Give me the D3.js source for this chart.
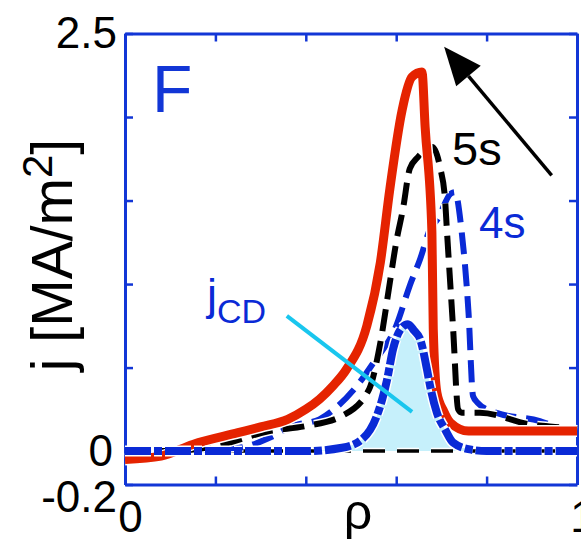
<!DOCTYPE html>
<html lang="en">
<head>
<meta charset="UTF-8">
<title>j profiles</title>
<script src="https://d3js.org/d3.v7.min.js"></script>
<style>
  body { margin: 0; background: #ffffff; }
  svg { display: block; font-family: "Liberation Sans", Arial, Helvetica, sans-serif; }
</style>
</head>
<body>
<svg width="581" height="546"></svg>
<script>
// current density profiles j(rho) in MA/m2

// total current, late time (red solid)
const redRho = [0, 0.08, 0.15, 0.25, 0.30, 0.36, 0.40, 0.43, 0.46, 0.49, 0.535, 0.565, 0.586, 0.613, 0.635, 0.657, 0.664, 0.679, 0.682, 0.69, 0.705, 0.72, 0.76, 0.85, 1.0];
const redJ   = [-0.05, -0.03, 0.04, 0.11, 0.145, 0.19, 0.25, 0.31, 0.39, 0.49, 0.75, 1.13, 1.57, 2.04, 2.24, 2.27, 1.94, 1.31, 0.73, 0.35, 0.24, 0.17, 0.12, 0.12, 0.12];

// 5 s (black dashed)
const s5Rho = [0, 0.10, 0.20, 0.32, 0.40, 0.48, 0.54, 0.565, 0.586, 0.60, 0.615, 0.63, 0.648, 0.68, 0.697, 0.708, 0.712, 0.726, 0.737, 0.745, 0.785, 0.896, 0.97, 1.0];
const s5J   = [0.0, 0.0, 0.03, 0.12, 0.15, 0.21, 0.37, 0.65, 1.01, 1.25, 1.45, 1.69, 1.76, 1.82, 1.70, 1.51, 1.33, 0.73, 0.25, 0.23, 0.23, 0.16, 0.14, 0.13];

// 4 s (blue dashed)
const s4Rho = [0, 0.25, 0.32, 0.37, 0.43, 0.467, 0.51, 0.55, 0.60, 0.63, 0.653, 0.675, 0.692, 0.72, 0.73, 0.745, 0.76, 0.77, 0.78, 0.82, 0.918, 0.97, 1.0];
const s4J   = [0.0, 0.02, 0.08, 0.15, 0.19, 0.26, 0.38, 0.53, 0.75, 0.99, 1.15, 1.33, 1.39, 1.54, 1.55, 1.31, 0.83, 0.33, 0.29, 0.23, 0.18, 0.13, 0.12];

// driven current j_CD (thick blue dash-dot, filled)
const cdRho = [0, 0.40, 0.48, 0.524, 0.557, 0.569, 0.58, 0.593, 0.61, 0.626, 0.64, 0.653, 0.668, 0.675, 0.69, 0.708, 0.726, 0.763, 0.80, 1.0];
const cdJ   = [0.0, 0.0, 0.02, 0.07, 0.21, 0.31, 0.43, 0.61, 0.73, 0.76, 0.72, 0.67, 0.49, 0.39, 0.23, 0.13, 0.05, 0.01, 0.0, 0.0];

// zero reference (black dashed)
const zeroRho = [0, 1.0];
const zeroJ   = [0, 0];

const yTicks = [-0.2, 0, 0.5, 1, 1.5, 2, 2.5];
const yTickText = { "2.5": "2.5", "0": "0", "-0.2": "-0.2" };
const xTicks = [0, 0.2, 0.4, 0.6, 0.8, 1];
const xTickText = { "0": "0", "1": "1" };

const W = 581, H = 546;
const margin = { top: 33.5, right: 4, bottom: 61.5, left: 125 };
const axisBlue = "#1236d6";
const lineBlue = "#0a2ad6";

const svg = d3.select("svg");
const x = d3.scaleLinear().domain([0, 1]).range([margin.left, W - margin.right]);
const y = d3.scaleLinear().domain([-0.2, 2.5]).range([H - margin.bottom, margin.top]);

const pairs = (a, b) => a.map((v, i) => [v, b[i]]);
const line = d3.line().x(d => x(d[0])).y(d => y(d[1])).curve(d3.curveMonotoneX);
const area = d3.area().x(d => x(d[0])).y0(y(0)).y1(d => y(d[1])).curve(d3.curveMonotoneX);

// axes: ticks point inward, labels only at the ends
function styleAxis(g) {
  g.select(".domain").attr("stroke", axisBlue).attr("stroke-width", 3);
  g.selectAll(".tick line").attr("stroke", axisBlue).attr("stroke-width", 2.5);
  g.selectAll(".tick text").attr("fill", "#000").attr("font-size", 44)
    .attr("font-family", "'Liberation Sans', Arial, sans-serif");
}

svg.append("g")
  .attr("transform", `translate(0,${y(-0.2)})`)
  .call(d3.axisBottom(x).tickValues(xTicks).tickSizeInner(-8).tickSizeOuter(0).tickPadding(16)
    .tickFormat(d => xTickText[d] || ""))
  .call(styleAxis)
  .call(g => g.selectAll(".tick text").attr("dx", 5));

svg.append("g")
  .attr("transform", `translate(${x(0)},0)`)
  .call(d3.axisLeft(y).tickValues(yTicks).tickSizeInner(-8).tickSizeOuter(0).tickPadding(8)
    .tickFormat(d => yTickText[d] || ""))
  .call(styleAxis)
  .call(g => g.selectAll(".tick text")
    .attr("dx", d => d === 0 ? -4 : 0)
    .attr("dy", d => d === -0.2 ? "0.62em" : "0.32em"));

svg.append("g")
  .attr("transform", `translate(0,${y(2.5)})`)
  .call(d3.axisTop(x).tickValues(xTicks).tickSizeInner(-8).tickSizeOuter(0).tickFormat(""))
  .call(styleAxis);

svg.append("g")
  .attr("transform", `translate(${x(1)},0)`)
  .call(d3.axisRight(y).tickValues(yTicks).tickSizeInner(-8).tickSizeOuter(0).tickFormat(""))
  .call(styleAxis);

// curves
const plot = svg.append("g");

plot.append("path")
  .datum(pairs(cdRho, cdJ))
  .attr("d", area)
  .attr("fill", "#c6f0fb");

function curve(data, color, width, dash) {
  plot.append("path")
    .datum(data)
    .attr("d", line)
    .attr("fill", "none")
    .attr("stroke", "#ffffff")
    .attr("stroke-width", width + 3)
    .attr("stroke-dasharray", dash)
    .attr("stroke-linejoin", "round");
  plot.append("path")
    .datum(data)
    .attr("d", line)
    .attr("fill", "none")
    .attr("stroke", color)
    .attr("stroke-width", width)
    .attr("stroke-dasharray", dash)
    .attr("stroke-linejoin", "round");
}

curve(pairs(zeroRho, zeroJ), "#000000", 3.5, "22,12");
curve(pairs(s4Rho, s4J), lineBlue, 6, "22,10");
curve(pairs(s5Rho, s5J), "#000000", 6, "22,10");
curve(pairs(redRho, redJ), "#e52300", 9, null);
curve(pairs(cdRho, cdJ), lineBlue, 8, "26,3,8,3");

// pointer to j_CD
svg.append("line")
  .attr("x1", x(0.358)).attr("y1", y(0.81))
  .attr("x2", x(0.635)).attr("y2", y(0.235))
  .attr("stroke", "#19c6ee").attr("stroke-width", 4);

// time arrow
const tail = [x(0.944), y(1.65)];
const tip = [x(0.706), y(2.42)];
const ang = Math.atan2(tip[1] - tail[1], tip[0] - tail[0]);
const headLen = 38, headHalf = 16;
const base = [tip[0] - headLen * Math.cos(ang), tip[1] - headLen * Math.sin(ang)];
svg.append("line")
  .attr("x1", tail[0]).attr("y1", tail[1])
  .attr("x2", base[0]).attr("y2", base[1])
  .attr("stroke", "#000").attr("stroke-width", 3.5);
svg.append("polygon")
  .attr("points", [
    tip,
    [base[0] + headHalf * Math.sin(ang), base[1] - headHalf * Math.cos(ang)],
    [base[0] - headHalf * Math.sin(ang), base[1] + headHalf * Math.cos(ang)]
  ].map(p => p.join(",")).join(" "))
  .attr("fill", "#000");

// labels
svg.append("text").attr("x", 152).attr("y", 112)
  .attr("font-size", 66).attr("fill", axisBlue).text("F");

svg.append("text").attr("x", 452).attr("y", 165)
  .attr("font-size", 47).attr("fill", "#000").text("5s");

svg.append("text").attr("x", 479).attr("y", 238)
  .attr("font-size", 44).attr("fill", lineBlue).text("4s");

const jcd = svg.append("text").attr("x", 207).attr("y", 310).attr("fill", lineBlue);
jcd.append("tspan").attr("font-size", 45).text("j");
jcd.append("tspan").attr("font-size", 34).attr("dy", 13).text("CD");

svg.append("text").attr("x", 358).attr("y", 529)
  .attr("text-anchor", "middle").attr("font-size", 50).text("ρ");

const ylab = svg.append("text")
  .attr("transform", "translate(72,255) rotate(-90)")
  .attr("text-anchor", "middle").attr("font-size", 57);
ylab.append("tspan").text("j [MA/m");
ylab.append("tspan").attr("font-size", 42).attr("dy", -20).text("2");
ylab.append("tspan").attr("dy", 20).text("]");
</script>
</body>
</html>
